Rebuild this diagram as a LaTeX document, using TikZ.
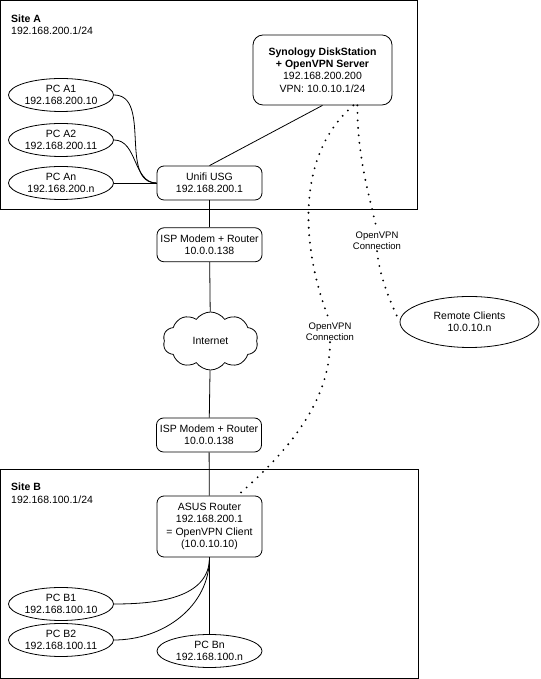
\documentclass[tikz,border=0pt]{standalone}
\usepackage{fontspec}
\setmainfont{Liberation Sans}
\usetikzlibrary{positioning,shapes.geometric,shapes.symbols}

\begin{document}
\begin{tikzpicture}[
        x=1pt, y=1pt,
        font=\fontsize{10.5}{12.3}\selectfont,
        sitebox/.style={rectangle, draw, line width=0.8pt, inner sep=0pt, outer sep=0pt, anchor=north west},
        sitelabel/.style={align=left, anchor=north west, inner sep=2pt},
        dev/.style={rectangle, draw, line width=0.8pt, rounded corners=7pt, align=center, inner sep=0pt, minimum width=105pt, minimum height=34pt, fill=white},
        pc/.style={ellipse, draw, line width=0.8pt, align=center, inner sep=0pt, minimum width=105pt, minimum height=33pt, fill=white},
        link/.style={line width=0.8pt},
        vpn/.style={line width=2.1pt, line cap=round, dash pattern=on 0pt off 7.5pt},
        vpnlabel/.style={align=center, fill=white, inner sep=1pt, font=\fontsize{9.5}{11.3}\selectfont}
    ]
        \useasboundingbox (0,0) rectangle (540,679);

        % sites
        \node[sitebox, minimum width=416.5pt, minimum height=208.5pt] (sitea) at (0.5,678.5) {};
        \node[sitebox, minimum width=417.5pt, minimum height=209pt] (siteb) at (0.5,210) {};
        \node[sitelabel] (sitealbl) at ([shift={(8.5pt,-12pt)}]sitea.north west) {\textbf{Site A}\\192.168.200.1/24};
        \node[sitelabel] (siteblbl) at ([shift={(8.5pt,-12pt)}]siteb.north west) {\textbf{Site B}\\192.168.100.1/24};

        % site A
        \node[pc] (pca1) at (61,584) {PC A1\\192.168.200.10};
        \node[pc] (pca2) at (61,539) {PC A2\\192.168.200.11};
        \node[pc] (pcan) at (61,496) {PC An\\192.168.200.n};
        \node[dev] (usg) at (209.5,496) {Unifi USG\\192.168.200.1};
        \node[dev, minimum width=139pt, minimum height=70pt, rounded corners=10pt] (syno) at (322.5,609)
            {\textbf{Synology DiskStation}\\\textbf{+ OpenVPN Server}\\192.168.200.200\\VPN: 10.0.10.1/24};

        % internet
        \node[dev, below=27pt of usg] (isp1) {ISP Modem + Router\\10.0.0.138};
        \node[cloud, draw, line width=0.8pt, cloud puffs=10, cloud puff arc=110, aspect=1.7, inner sep=0pt,
              minimum width=95pt, minimum height=58pt] (inet) at (210.5,338) {Internet};
        \node[dev] (isp2) at (209,244) {ISP Modem + Router\\10.0.0.138};
        \node[pc, minimum width=139pt, minimum height=51pt] (remote) at (469.5,357) {Remote Clients\\10.0.10.n};

        % site B
        \node[dev, minimum height=61pt] (asus) at (209.5,152.5) {ASUS Router\\192.168.200.1\\= OpenVPN Client\\(10.0.10.10)};
        \node[pc] (pcb1) at (61,75) {PC B1\\192.168.100.10};
        \node[pc] (pcb2) at (61,39) {PC B2\\192.168.100.11};
        \node[pc] (pcbn) at (209.5,28) {PC Bn\\192.168.100.n};

        % vpn labels
        \node[vpnlabel] (vpnlbla) at (330,347) {OpenVPN\\Connection};
        \node[vpnlabel] (vpnlblb) at (377,438) {OpenVPN\\Connection};

        \draw[link] (pca1.east) to[out=0, in=180] (usg.west);
        \draw[link] (pca2.east) to[out=0, in=180] (usg.west);
        \draw[link] (pcan) -- (usg);
        \draw[link] (usg.north) -- (syno.south);
        \draw[link] (usg) -- (isp1);
        \draw[link] (isp1) -- (inet);
        \draw[link] (inet) -- (isp2);
        \draw[link] (isp2) -- (asus);
        \draw[link] (asus.south) to[out=-90, in=0] (pcb1.east);
        \draw[link] (asus.south) to[out=-90, in=0] (pcb2.east);
        \draw[link] (asus) -- (pcbn);

        \draw[vpn] ([xshift=-39pt]syno.south east) .. controls (290,519) and (305,419) .. (vpnlbla.north);
        \draw[vpn] (vpnlbla.south) .. controls (330,279) and (290,229) .. ([xshift=-25pt]asus.north east);
        \draw[vpn] ([xshift=-35pt]syno.south east) .. controls (357,519) and (372,474) .. (vpnlblb.north);
        \draw[vpn] (vpnlblb.south) .. controls (380,399) and (392,374) .. (remote.west);
    \end{tikzpicture}
\end{document}
